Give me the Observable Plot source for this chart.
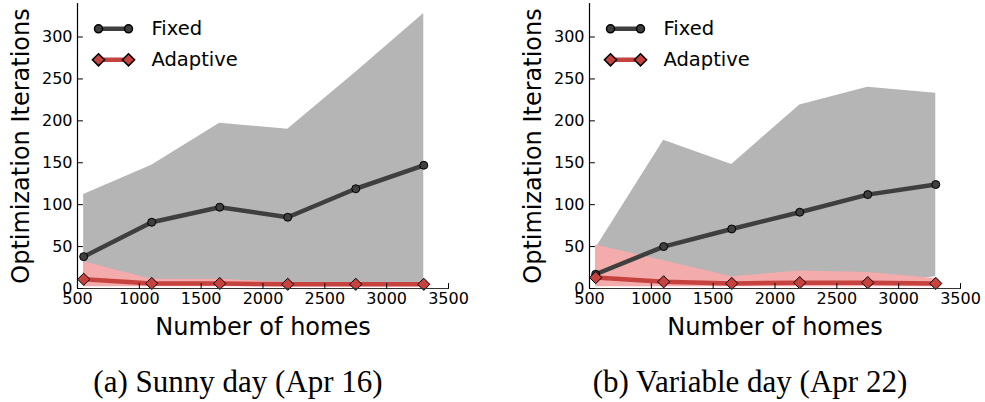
<!DOCTYPE html>
<html>
<head>
<meta charset="utf-8">
<script src="https://cdn.jsdelivr.net/npm/d3@7"></script>
<script src="https://cdn.jsdelivr.net/npm/@observablehq/plot@0.6"></script>
<style>
  html, body { margin: 0; padding: 0; background: #fff; }
  #wrap { position: relative; width: 985px; height: 402px; overflow: hidden; background: #fff; }
  .panel { position: absolute; top: 0; }
  .panel g[aria-label="x-axis tick label"], .panel g[aria-label="y-axis tick label"] { font-size: 16px !important; }
  .cap { position: absolute; top: 366px; width: 476px; text-align: center;
         font-family: "Liberation Serif", "Times New Roman", serif; font-size: 31px; line-height: 31px; color: #000; white-space: nowrap; }
</style>
</head>
<body>
<div id="wrap"></div>
<script>
// ---- data ----
const homes = [550, 1100, 1650, 2200, 2750, 3300];

const sunnyFixedMean = [38, 79, 97, 85, 119, 147];
const sunnyFixedLow  = [3, 4, 4, 3, 3, 3];
const sunnyFixedHigh = [112, 147, 197, 190, 258, 328];
const sunnyAdaptiveMean = [11, 6, 6, 5, 5, 5];
const sunnyAdaptiveLow  = [2, 2, 2, 2, 2, 2];
const sunnyAdaptiveHigh = [32, 11, 11, 7, 7, 7];

const variableFixedMean = [17, 50, 71, 91, 112, 124];
const variableFixedLow  = [4, 5, 5, 5, 5, 14];
const variableFixedHigh = [48, 177, 148, 219, 240, 233];
const variableAdaptiveMean = [13, 8, 6, 7, 7, 6];
const variableAdaptiveLow  = [2, 2, 2, 2, 2, 2];
const variableAdaptiveHigh = [52, 33, 14, 21, 19, 12];

const xTicks = [500, 1000, 1500, 2000, 2500, 3000, 3500];
const yTicks = [0, 50, 100, 150, 200, 250, 300];
const seriesNames = ["Fixed", "Adaptive"];
const xLabel = "Number of homes";
const yLabel = "Optimization Iterations";
const captions = ["(a) Sunny day (Apr 16)", "(b) Variable day (Apr 22)"];

const panels = [
  {fm: sunnyFixedMean, fl: sunnyFixedLow, fh: sunnyFixedHigh,
   am: sunnyAdaptiveMean, al: sunnyAdaptiveLow, ah: sunnyAdaptiveHigh},
  {fm: variableFixedMean, fl: variableFixedLow, fh: variableFixedHigh,
   am: variableAdaptiveMean, al: variableAdaptiveLow, ah: variableAdaptiveHigh}
];

// ---- style ----
const GRAY_BAND = "#b5b5b5";
const PINK_BAND = "#f3abab";
const DARK = "#3f3f3f";
const RED = "#c6423f";

const tickShape = {draw(context, l) { context.moveTo(0, 0); context.lineTo(0, -l); }};

function makePanel(p, width, marginRight) {
  const rows = homes.map((h, i) => ({h, fm: p.fm[i], fl: p.fl[i], fh: p.fh[i], am: p.am[i], al: p.al[i], ah: p.ah[i]}));
  const legendY = [25.3, 56.3];
  return Plot.plot({
    width, height: 350,
    marginLeft: 77, marginRight, marginTop: 3, marginBottom: 62,
    style: {fontFamily: "DejaVu Sans, sans-serif", background: "transparent", color: "#000", overflow: "visible"},
    x: {domain: [500, 3500]},
    y: {domain: [0, 340]},
    marks: [
      Plot.areaY(rows, {x: "h", y1: "fl", y2: "fh", fill: GRAY_BAND}),
      Plot.areaY(rows, {x: "h", y1: "al", y2: "ah", fill: PINK_BAND}),
      Plot.line(rows, {x: "h", y: "fm", stroke: DARK, strokeWidth: 4.5}),
      Plot.line(rows, {x: "h", y: "am", stroke: RED, strokeWidth: 4.5}),
      Plot.dot(rows, {x: "h", y: "fm", r: 4, fill: DARK, stroke: "#000", strokeWidth: 1}),
      Plot.dot(rows, {x: "h", y: "am", r: 5.5, symbol: "diamond2", fill: RED, stroke: "#000", strokeWidth: 1}),
      // axes lines
      Plot.ruleX([xTicks[0]], {stroke: "#000", strokeWidth: 1.2}),
      Plot.ruleY([yTicks[0]], {stroke: "#333", strokeWidth: 1.2}),
      // inward ticks
      Plot.vector(yTicks, {y: d => d, frameAnchor: "left", rotate: 90, length: 5, anchor: "start", shape: tickShape, stroke: "#000", strokeWidth: 1}),
      Plot.vector(xTicks, {x: d => d, frameAnchor: "bottom", rotate: 0, length: 5, anchor: "start", shape: tickShape, stroke: "#000", strokeWidth: 1}),
      Plot.axisY({ticks: yTicks, tickSize: 0, tickPadding: 5, fontSize: 16, label: null, tickFormat: d => String(d)}),
      Plot.axisX({ticks: xTicks, tickSize: 0, tickPadding: 4, fontSize: 16, label: null, tickFormat: d => String(d)}),
      // axis titles
      Plot.text([yLabel], {frameAnchor: "left", dx: -56, rotate: -90, textAnchor: "middle", lineAnchor: "middle", fontSize: 24, fill: "#000"}),
      Plot.text([xLabel], {frameAnchor: "bottom", dy: 39, textAnchor: "middle", lineAnchor: "middle", fontSize: 24, fill: "#000"}),
      // legend
      Plot.vector([0], {frameAnchor: "top-left", dx: 21, dy: legendY[0], rotate: 90, length: 30, anchor: "start", shape: tickShape, stroke: DARK, strokeWidth: 4.5}),
      Plot.dot([0], {frameAnchor: "top-left", dx: 21, dy: legendY[0], r: 4, fill: DARK, stroke: "#000"}),
      Plot.dot([0], {frameAnchor: "top-left", dx: 51, dy: legendY[0], r: 4, fill: DARK, stroke: "#000"}),
      Plot.text([seriesNames[0]], {frameAnchor: "top-left", dx: 74, dy: legendY[0], textAnchor: "start", lineAnchor: "middle", fontSize: 19.5, fill: "#000"}),
      Plot.vector([0], {frameAnchor: "top-left", dx: 21, dy: legendY[1], rotate: 90, length: 30, anchor: "start", shape: tickShape, stroke: RED, strokeWidth: 4.5}),
      Plot.dot([0], {frameAnchor: "top-left", dx: 21, dy: legendY[1], r: 5.5, symbol: "diamond2", fill: RED, stroke: "#000"}),
      Plot.dot([0], {frameAnchor: "top-left", dx: 51, dy: legendY[1], r: 5.5, symbol: "diamond2", fill: RED, stroke: "#000"}),
      Plot.text([seriesNames[1]], {frameAnchor: "top-left", dx: 74, dy: legendY[1], textAnchor: "start", lineAnchor: "middle", fontSize: 19.5, fill: "#000"})
    ]
  });
}

const wrap = document.getElementById("wrap");
const layout = [{left: 0, width: 512, mr: 64}, {left: 512, width: 473, mr: 25}];
panels.forEach((p, i) => {
  const svg = makePanel(p, layout[i].width, layout[i].mr);
  svg.classList.add("panel");
  svg.style.left = layout[i].left + "px";
  wrap.appendChild(svg);
  const cap = document.createElement("div");
  cap.className = "cap";
  cap.style.left = (layout[i].left) + "px";
  cap.textContent = captions[i];
  wrap.appendChild(cap);
});
</script>
</body>
</html>
